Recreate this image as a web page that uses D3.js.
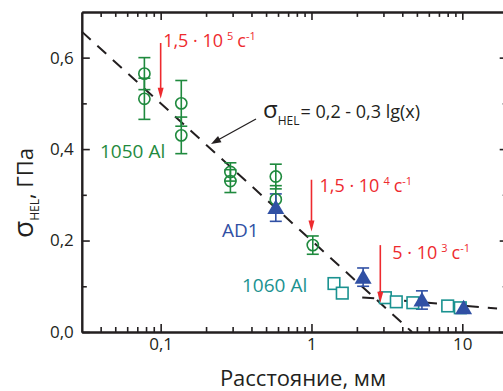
<!DOCTYPE html>
<html><head><meta charset="utf-8">
<script src="https://cdn.jsdelivr.net/npm/d3@7"></script>
<style>
body{margin:0;background:#fff}
svg{display:block}
text{font-family:"Open Sans","Noto Sans",sans-serif;fill:#231f20}
</style>
</head><body><svg id="c" width="503" height="391"></svg>
<script>
// Measured HEL stress vs distance for three aluminium grades
const al1050X   = [0.078, 0.078, 0.137, 0.137, 0.29, 0.29, 0.58, 0.58, 1.02];
const al1050Y   = [0.565, 0.51, 0.50, 0.43, 0.35, 0.33, 0.34, 0.29, 0.19];
const al1050Err = [0.035, 0.045, 0.05, 0.04, 0.02, 0.025, 0.027, 0.03, 0.02];

const ad1X   = [0.58, 2.2, 5.4, 10.2];
const ad1Y   = [0.272, 0.12, 0.07, 0.053];
const ad1Err = [0.03, 0.02, 0.02, 0];

const al1060X = [1.41, 1.6, 3.09, 3.65, 4.7, 8.0, 9.7];
const al1060Y = [0.106, 0.085, 0.075, 0.066, 0.064, 0.057, 0.053];

const seriesNames = ["1050 Al", "AD1", "1060 Al"];

const xTickValues = [0.1, 1, 10];
const xTickLabels = ["0,1", "1", "10"];
const yTickValues = [0, 0.2, 0.4, 0.6];
const yTickLabels = ["0,0", "0,2", "0,4", "0,6"];
const yMinorValues = [0.1, 0.3, 0.5];

// fit: σ = a + b·lg(x)
const fitCoef = [0.2, -0.3];
// shallow tail of the decay
const tailX = [2.17, 17];
const tailY = [0.0757, 0.0516];

// strain-rate markers
const rateX    = [0.1, 1, 2.86];
const rateFrom = [0.632, 0.333, 0.19];
const rateTo   = [0.51, 0.22, 0.064];
const rateMant = ["1,5 · 10", "1,5 · 10", "5 · 10"];
const rateExp  = ["5", "4", "3"];

const GREEN = "#1f8a3e", BLUE = "#3050a4", TEAL = "#1a9290", RED = "#ee2a2e", INK = "#231f20";

const svg = d3.select("#c");
const x = d3.scaleLog().domain([0.03, 20]).range([81.8, 507.7]);
const y = d3.scaleLinear().domain([0, 0.7]).range([332, 11.9]);
const [x0, x1] = x.range(), [y0, y1] = y.range();

const xMinor = x.ticks().filter(v => !xTickValues.some(t => Math.abs(t - v) < 1e-9) && v > 0.03 + 1e-9 && v < 20 - 1e-9);

// axes with inward ticks
function styleAxis(g) {
  g.selectAll("path.domain").attr("stroke", INK).attr("stroke-width", 2);
  g.selectAll(".tick line").attr("stroke", INK).attr("stroke-width", 1.6);
  g.selectAll(".tick text").attr("font-size", 17).attr("fill", INK).attr("font-family", '"Open Sans",sans-serif');
}
svg.append("g").attr("transform", `translate(0,${y0})`)
  .call(d3.axisBottom(x).tickValues(xMinor).tickSize(-5).tickSizeOuter(0).tickFormat(""))
  .call(styleAxis);
svg.append("g").attr("transform", `translate(0,${y0})`)
  .call(d3.axisBottom(x).tickValues(xTickValues).tickSize(-8).tickSizeOuter(0).tickPadding(6)
    .tickFormat((d, i) => xTickLabels[i]))
  .call(styleAxis);
svg.append("g").attr("transform", `translate(0,${y1})`)
  .call(d3.axisTop(x).tickValues(xMinor).tickSize(-5).tickSizeOuter(0).tickFormat(""))
  .call(styleAxis);
svg.append("g").attr("transform", `translate(0,${y1})`)
  .call(d3.axisTop(x).tickValues(xTickValues).tickSize(-8).tickSizeOuter(0).tickFormat(""))
  .call(styleAxis);
svg.append("g").attr("transform", `translate(${x0},0)`)
  .call(d3.axisLeft(y).tickValues(yMinorValues).tickSize(-5).tickSizeOuter(0).tickFormat(""))
  .call(styleAxis);
svg.append("g").attr("transform", `translate(${x0},0)`)
  .call(d3.axisLeft(y).tickValues(yTickValues).tickSize(-8).tickSizeOuter(0).tickPadding(8)
    .tickFormat((d, i) => yTickLabels[i]))
  .call(styleAxis);
svg.append("g").attr("transform", `translate(${x1},0)`)
  .call(d3.axisRight(y).tickValues(yMinorValues).tickSize(-5).tickSizeOuter(0).tickFormat(""))
  .call(styleAxis);
svg.append("g").attr("transform", `translate(${x1},0)`)
  .call(d3.axisRight(y).tickValues(yTickValues).tickSize(-8).tickSizeOuter(0).tickFormat(""))
  .call(styleAxis);

// fitted dashed lines
const fitEndX = Math.pow(10, -fitCoef[0] / fitCoef[1]);
const fitPts = [0.03, fitEndX].map(v => [v, fitCoef[0] + fitCoef[1] * Math.log10(v)]);
const line = d3.line().x(d => x(d[0])).y(d => y(d[1]));
svg.append("path").attr("d", line(fitPts)).attr("fill", "none").attr("stroke", INK)
  .attr("stroke-width", 2).attr("stroke-dasharray", "12,9");
svg.append("path").attr("d", line(tailX.map((v, i) => [v, tailY[i]]))).attr("fill", "none").attr("stroke", INK)
  .attr("stroke-width", 2).attr("stroke-dasharray", "12,9");

// error bars
function errBars(xs, ys, es, color) {
  const g = svg.append("g").attr("stroke", color).attr("stroke-width", 1.6);
  xs.forEach((v, i) => {
    if (!es[i]) return;
    const cx = x(v), yt = y(ys[i] + es[i]), yb = y(ys[i] - es[i]);
    g.append("line").attr("x1", cx).attr("x2", cx).attr("y1", yt).attr("y2", yb);
    g.append("line").attr("x1", cx - 6).attr("x2", cx + 6).attr("y1", yt).attr("y2", yt);
    g.append("line").attr("x1", cx - 6).attr("x2", cx + 6).attr("y1", yb).attr("y2", yb);
  });
}
errBars(al1050X, al1050Y, al1050Err, GREEN);
errBars(ad1X, ad1Y, ad1Err, BLUE);

// 1050 Al: open circles
svg.append("g").selectAll("circle").data(al1050X).join("circle")
  .attr("cx", d => x(d)).attr("cy", (d, i) => y(al1050Y[i])).attr("r", 5.6)
  .attr("fill", "none").attr("stroke", GREEN).attr("stroke-width", 1.6);

// 1060 Al: open squares
svg.append("g").selectAll("rect").data(al1060X).join("rect")
  .attr("x", d => x(d) - 5.8).attr("y", (d, i) => y(al1060Y[i]) - 5.8)
  .attr("width", 11.6).attr("height", 11.6)
  .attr("fill", "#fff").attr("stroke", TEAL).attr("stroke-width", 1.6);

// AD1: filled triangles
svg.append("g").selectAll("path").data(ad1X).join("path")
  .attr("d", (d, i) => {
    const cx = x(d), cy = y(ad1Y[i]);
    return `M${cx},${cy - 8}L${cx + 8.5},${cy + 6.5}L${cx - 8.5},${cy + 6.5}Z`;
  })
  .attr("fill", BLUE);

// strain-rate arrows and labels
const labelOff = [[2.5, 4], [8, 12.5], [12, 13.5]];
rateX.forEach((v, i) => {
  const ax = x(v), ya = y(rateFrom[i]), yb = y(rateTo[i]);
  svg.append("line").attr("x1", ax).attr("x2", ax).attr("y1", ya).attr("y2", yb - 8)
    .attr("stroke", RED).attr("stroke-width", 1.6);
  svg.append("path").attr("d", `M${ax},${yb}L${ax - 3},${yb - 11}L${ax + 3},${yb - 11}Z`).attr("fill", RED);
  const t = svg.append("text").attr("x", ax + labelOff[i][0]).attr("y", ya + labelOff[i][1])
    .attr("font-size", 18).style("fill", RED);
  t.append("tspan").text(rateMant[i]);
  t.append("tspan").attr("dx", 4).attr("dy", -7).attr("font-size", 11).text(rateExp[i]);
  t.append("tspan").attr("dx", 4).attr("dy", 7).text("с");
  t.append("tspan").attr("dy", -7).attr("font-size", 11).text("-1");
});

// equation annotation
const eq = svg.append("text").attr("x", 263).attr("y", 118).attr("font-size", 18);
eq.append("tspan").attr("font-size", 24).text("σ");
eq.append("tspan").attr("dy", 7).attr("font-size", 12).text("HEL");
eq.append("tspan").attr("dy", -7).attr("dx", 1).text("= 0,2 - 0,3 lg(x)");
svg.append("line").attr("x1", 256).attr("y1", 119).attr("x2", 217).attr("y2", 140.5)
  .attr("stroke", INK).attr("stroke-width", 1.3);
(function () {
  const tx = 211, ty = 144, ang = Math.atan2(144 - 119, 211 - 256);
  const L = 10, W = 3.5;
  const bx = tx - L * Math.cos(ang), by = ty - L * Math.sin(ang);
  const px = -Math.sin(ang) * W, py = Math.cos(ang) * W;
  svg.append("path").attr("d", `M${tx},${ty}L${bx + px},${by + py}L${bx - px},${by - py}Z`).attr("fill", INK);
})();

// series labels
const nameStyle = [[100, 158, GREEN], [222, 237, BLUE], [242, 292, TEAL]];
seriesNames.forEach((n, i) => {
  svg.append("text").attr("x", nameStyle[i][0]).attr("y", nameStyle[i][1])
    .attr("font-size", 19).style("fill", nameStyle[i][2]).text(n);
});

// axis titles
svg.append("text").attr("x", 303).attr("y", 386).attr("text-anchor", "middle")
  .attr("font-size", 22).text("Расстояние, мм");
const yt = svg.append("text").attr("transform", "translate(33,193) rotate(-90)")
  .attr("text-anchor", "middle").attr("font-size", 22);
yt.append("tspan").attr("font-size", 28).text("σ");
yt.append("tspan").attr("dy", 6).attr("font-size", 12).text("HEL");
yt.append("tspan").attr("dy", -6).text(", ГПа");
</script>
</body></html>
